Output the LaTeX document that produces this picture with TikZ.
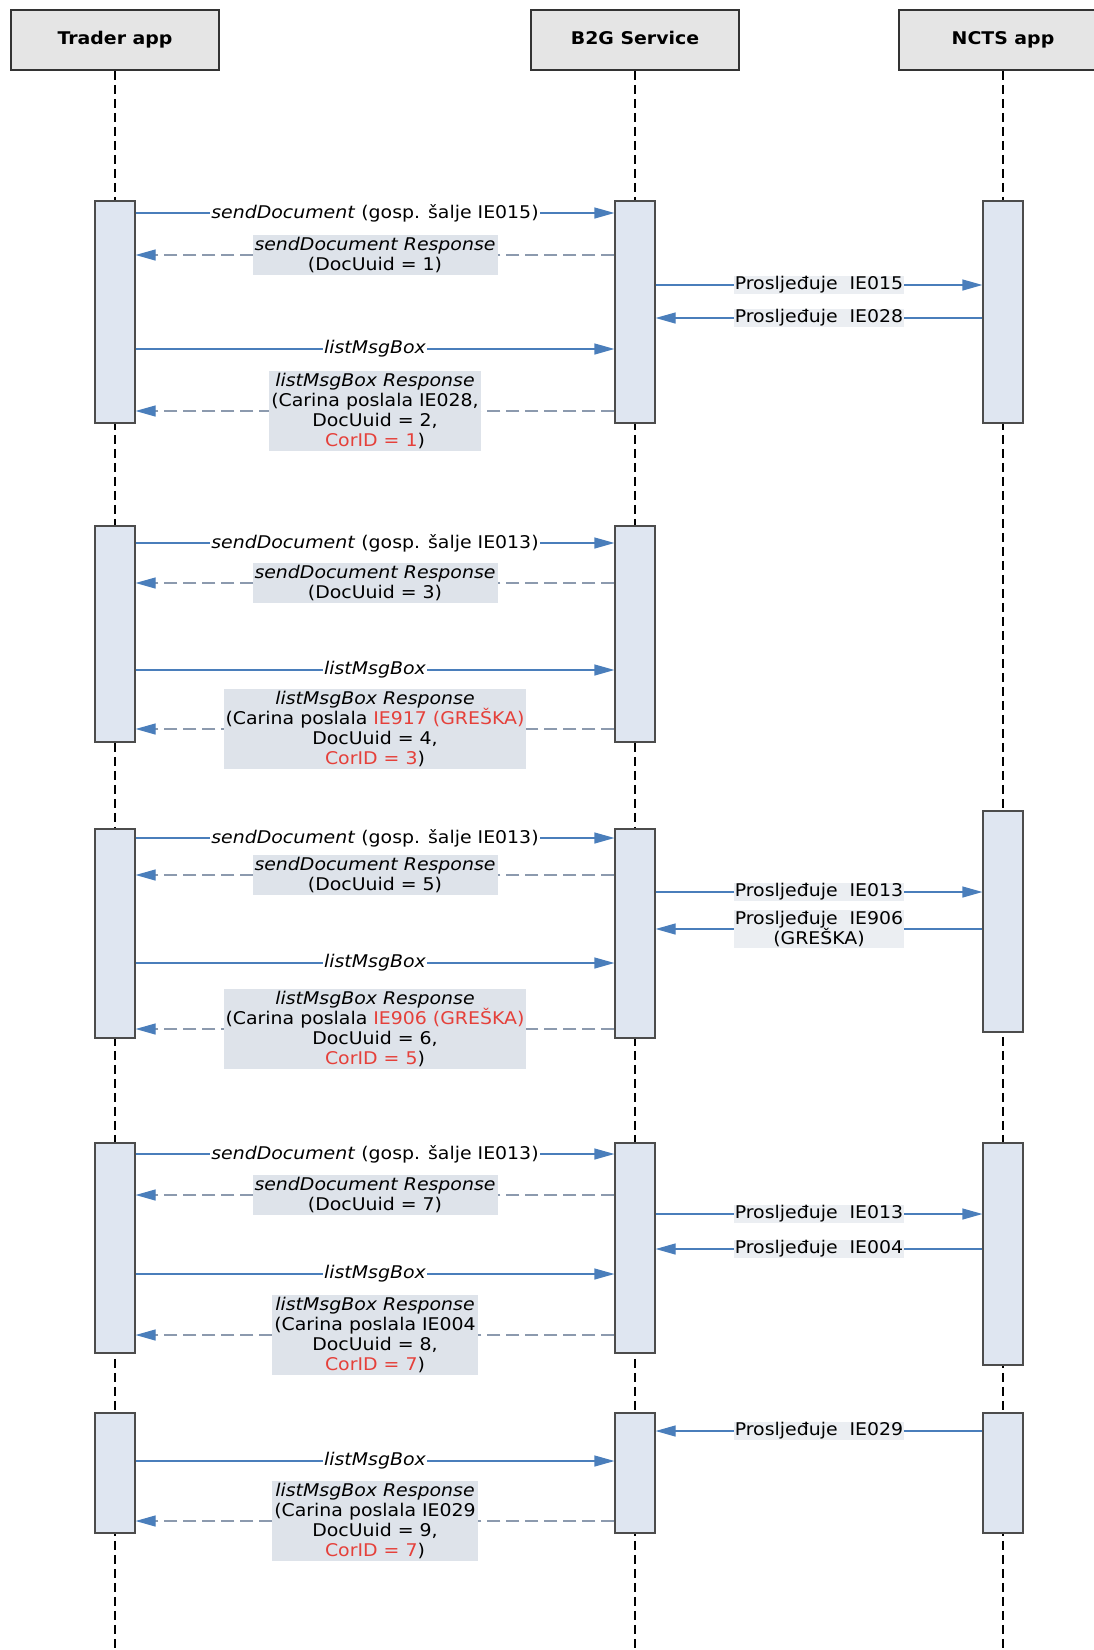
\documentclass[tikz,border=0pt]{standalone}
\usepackage{fontspec}
\setmainfont{DejaVu Sans}[FakeStretch=1.08]
\usetikzlibrary{arrows.meta}

\definecolor{arrblue}{HTML}{4A7EBB}
\definecolor{respgray}{HTML}{8C9AAE}
\definecolor{actfill}{HTML}{DFE6F1}
\definecolor{lblfill}{HTML}{DEE3EA}
\definecolor{hdrfill}{HTML}{E5E5E5}
\definecolor{errred}{HTML}{E5403A}
\newcommand\err[1]{\textcolor{errred}{#1}}

\tikzset{
  actor/.style={draw=black!80, line width=1.8pt, fill=hdrfill,
    minimum width=208pt, minimum height=60pt, text height=13pt, text depth=4pt,
    font=\bfseries\fontsize{17.5}{20}\selectfont},
  act/.style={draw=black!70, line width=1.2pt, fill=actfill,
    minimum width=40pt, inner sep=0pt},
  life/.style={dash pattern=on 9pt off 5pt, line width=1.5pt},
  call/.style={draw=arrblue, line width=1.2pt,
    -{Triangle[length=20pt,width=11pt]}},
  resp/.style={draw=respgray, line width=1.2pt, dash pattern=on 13pt off 6pt,
    -{Triangle[length=20pt,width=11pt,color=arrblue]}},
  lbl/.style={fill=white, inner sep=1pt, font=\fontsize{17.5}{20}\selectfont},
  fwd/.style={fill=lblfill!60, inner sep=1pt, align=center,
    font=\fontsize{17.5}{20}\selectfont},
  rlbl/.style={fill=lblfill, inner sep=2pt, align=center,
    font=\fontsize{17.5}{20}\selectfont}
}

\begin{document}
\begin{tikzpicture}[x=1pt,y=-1pt]
  \useasboundingbox (0,0) rectangle (1094,1650);

  %% participants
  \node[actor] (trader) at (115,40) {Trader app};
  \node[actor] (b2g) at (635,40) {B2G Service};
  \node[actor] (ncts) at (1003,40) {NCTS app};

  \coordinate (tbot) at (115,1650);
  \coordinate (bbot) at (635,1650);
  \coordinate (nbot) at (1003,1650);

  \draw[life] (trader.south) -- (tbot);
  \draw[life] (b2g.south) -- (bbot);
  \draw[life] (ncts.south) -- (nbot);

  %% activations
  \node[act, minimum height=222pt] (t1) at (115,312) {};
  \node[act, minimum height=222pt] (b1) at (635,312) {};
  \node[act, minimum height=222pt] (n1) at (1003,312) {};

  \node[act, minimum height=216pt] (t2) at (115,634) {};
  \node[act, minimum height=216pt] (b2) at (635,634) {};

  \node[act, minimum height=209pt] (t3) at (115,933.5) {};
  \node[act, minimum height=209pt] (b3) at (635,933.5) {};
  \node[act, minimum height=221pt] (n3) at (1003,921.5) {};

  \node[act, minimum height=210pt] (t4) at (115,1248) {};
  \node[act, minimum height=210pt] (b4) at (635,1248) {};
  \node[act, minimum height=222pt] (n4) at (1003,1254) {};

  \node[act, minimum height=120pt] (t5) at (115,1473) {};
  \node[act, minimum height=120pt] (b5) at (635,1473) {};
  \node[act, minimum height=120pt] (n5) at (1003,1473) {};

  %% block 1
  \draw[call] (t1.east |- 0,213) -- node[lbl]{\textit{sendDocument} (gosp. šalje IE015)} (b1.west |- 0,213); %% T -> B
  \draw[resp] (b1.west |- 0,255) -- node[rlbl]{\textit{sendDocument Response}\\(DocUuid = 1)} (t1.east |- 0,255); %% B -> T
  \draw[call] (b1.east |- 0,285) -- node[fwd]{Prosljeđuje~ IE015} (n1.west |- 0,285); %% B -> N
  \draw[call] (n1.west |- 0,318) -- node[fwd]{Prosljeđuje~ IE028} (b1.east |- 0,318); %% N -> B
  \draw[call] (t1.east |- 0,349) -- node[lbl]{\textit{listMsgBox}} (b1.west |- 0,349);
  \draw[resp] (b1.west |- 0,411) -- node[rlbl]{\textit{listMsgBox Response}\\(Carina poslala IE028,\\DocUuid = 2,\\\err{CorID = 1})} (t1.east |- 0,411);

  %% block 2
  \draw[call] (t2.east |- 0,543) -- node[lbl]{\textit{sendDocument} (gosp. šalje IE013)} (b2.west |- 0,543);
  \draw[resp] (b2.west |- 0,583) -- node[rlbl]{\textit{sendDocument Response}\\(DocUuid = 3)} (t2.east |- 0,583);
  \draw[call] (t2.east |- 0,670) -- node[lbl]{\textit{listMsgBox}} (b2.west |- 0,670);
  \draw[resp] (b2.west |- 0,729) -- node[rlbl]{\textit{listMsgBox Response}\\(Carina poslala \err{IE917 (GREŠKA)}\\DocUuid = 4,\\\err{CorID = 3})} (t2.east |- 0,729);

  %% block 3
  \draw[call] (t3.east |- 0,838) -- node[lbl]{\textit{sendDocument} (gosp. šalje IE013)} (b3.west |- 0,838);
  \draw[resp] (b3.west |- 0,875) -- node[rlbl]{\textit{sendDocument Response}\\(DocUuid = 5)} (t3.east |- 0,875);
  \draw[call] (b3.east |- 0,892) -- node[fwd]{Prosljeđuje~ IE013} (n3.west |- 0,892);
  \draw[call] (n3.west |- 0,929) -- node[fwd]{Prosljeđuje~ IE906\\(GREŠKA)} (b3.east |- 0,929);
  \draw[call] (t3.east |- 0,963) -- node[lbl]{\textit{listMsgBox}} (b3.west |- 0,963);
  \draw[resp] (b3.west |- 0,1029) -- node[rlbl]{\textit{listMsgBox Response}\\(Carina poslala \err{IE906 (GREŠKA)}\\DocUuid = 6,\\\err{CorID = 5})} (t3.east |- 0,1029);

  %% block 4
  \draw[call] (t4.east |- 0,1154) -- node[lbl]{\textit{sendDocument} (gosp. šalje IE013)} (b4.west |- 0,1154);
  \draw[resp] (b4.west |- 0,1195) -- node[rlbl]{\textit{sendDocument Response}\\(DocUuid = 7)} (t4.east |- 0,1195);
  \draw[call] (b4.east |- 0,1214) -- node[fwd]{Prosljeđuje~ IE013} (n4.west |- 0,1214);
  \draw[call] (n4.west |- 0,1249) -- node[fwd]{Prosljeđuje~ IE004} (b4.east |- 0,1249);
  \draw[call] (t4.east |- 0,1274) -- node[lbl]{\textit{listMsgBox}} (b4.west |- 0,1274);
  \draw[resp] (b4.west |- 0,1335) -- node[rlbl]{\textit{listMsgBox Response}\\(Carina poslala IE004\\DocUuid = 8,\\\err{CorID = 7})} (t4.east |- 0,1335);

  %% block 5
  \draw[call] (n5.west |- 0,1431) -- node[fwd]{Prosljeđuje~ IE029} (b5.east |- 0,1431);
  \draw[call] (t5.east |- 0,1461) -- node[lbl]{\textit{listMsgBox}} (b5.west |- 0,1461);
  \draw[resp] (b5.west |- 0,1521) -- node[rlbl]{\textit{listMsgBox Response}\\(Carina poslala IE029\\DocUuid = 9,\\\err{CorID = 7})} (t5.east |- 0,1521);

\end{tikzpicture}
\end{document}
